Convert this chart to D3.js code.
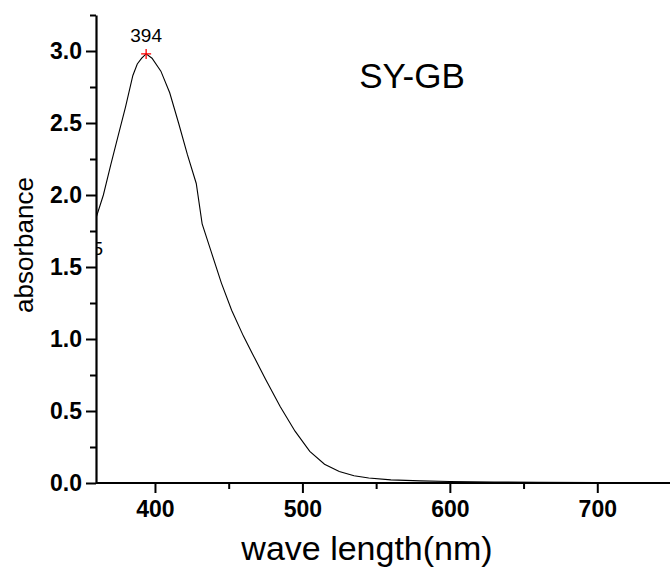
<!DOCTYPE html>
<html>
<head>
<meta charset="utf-8">
<script src="https://cdn.jsdelivr.net/npm/d3@7"></script>
<style>
  body { margin: 0; background: #fff; }
  svg { display: block; font-family: "Liberation Sans", Arial, sans-serif; }
</style>
</head>
<body>
<svg id="chart" width="670" height="573"></svg>
<script>
// absorbance spectrum, values
const wavelength = [360, 365, 370, 375, 380, 385, 388, 391, 394, 398, 404, 410, 416, 422, 428, 432,
  438, 445, 452, 460, 466, 475, 485, 495, 505, 515, 525, 535, 545, 560, 580, 600, 630, 660, 700];
const absorbance = [1.84, 2.00, 2.21, 2.41, 2.61, 2.83, 2.91, 2.95, 2.98, 2.95, 2.86, 2.71, 2.50, 2.28, 2.08, 1.80,
  1.61, 1.39, 1.20, 1.02, 0.90, 0.72, 0.53, 0.36, 0.22, 0.13, 0.08, 0.05, 0.035, 0.022, 0.015, 0.010, 0.007, 0.005, 0.003];
const xTicks = [400, 500, 600, 700];
const xMinor = [450, 550, 650, 750];
const yTicks = [0, 0.5, 1.0, 1.5, 2.0, 2.5, 3.0];
const yMinor = [0.25, 0.75, 1.25, 1.75, 2.25, 2.75, 3.25];
const peak = {x: 394, y: 2.98, label: "394"};
const edgeLabel = {x: 360, y: 1.58, label: "5"}; // label cut by the left edge of the plot
const title = "SY-GB";

const svg = d3.select("#chart");

const x = d3.scaleLinear().domain([360, 750]).range([96, 671]);
const y = d3.scaleLinear().domain([0, 3.25]).range([483, 15]);

svg.append("clipPath").attr("id", "plotclip")
  .append("rect")
  .attr("x", x(360)).attr("y", 0)
  .attr("width", 670 - x(360)).attr("height", y(0));

const plot = svg.append("g").attr("clip-path", "url(#plotclip)");

// spectrum line
const line = d3.line()
  .x((d, i) => x(wavelength[i]))
  .y(d => y(d));
plot.append("path")
  .datum(absorbance)
  .attr("fill", "none")
  .attr("stroke", "#000")
  .attr("stroke-width", 1.1)
  .attr("d", line);

// label partly hidden behind the left edge
plot.append("text")
  .attr("x", x(edgeLabel.x) + 7)
  .attr("y", y(edgeLabel.y))
  .attr("text-anchor", "end")
  .style("font-size", "19px")
  .text(edgeLabel.label);

// minor ticks first so major axes draw over them
svg.append("g")
  .attr("transform", "translate(0," + y(0) + ")")
  .call(d3.axisBottom(x).tickValues(xMinor).tickSize(6).tickFormat(""))
  .call(g => g.select(".domain").remove())
  .selectAll("line").attr("stroke-width", 2);

svg.append("g")
  .attr("transform", "translate(" + x(360) + ",0)")
  .call(d3.axisLeft(y).tickValues(yMinor).tickSize(6).tickFormat(""))
  .call(g => g.select(".domain").remove())
  .selectAll("line").attr("stroke-width", 2);

// x axis
const xAxis = svg.append("g")
  .attr("transform", "translate(0," + y(0) + ")")
  .call(d3.axisBottom(x).tickValues(xTicks).tickSize(10).tickSizeOuter(0).tickPadding(8));
xAxis.select(".domain").attr("stroke-width", 2.2).attr("d", "M" + x(360) + ",0H670");
xAxis.selectAll("line").attr("stroke-width", 2);
xAxis.selectAll("text")
  .style("font-size", "23px")
  .style("font-weight", "bold")
  .attr("fill", "#000");

// y axis
const yAxis = svg.append("g")
  .attr("transform", "translate(" + x(360) + ",0)")
  .call(d3.axisLeft(y).tickValues(yTicks).tickSize(10).tickSizeOuter(0).tickPadding(4)
    .tickFormat(d3.format(".1f")));
yAxis.select(".domain").attr("stroke-width", 2.2);
yAxis.selectAll("line").attr("stroke-width", 2);
yAxis.selectAll("text")
  .style("font-size", "23px")
  .style("font-weight", "bold")
  .attr("fill", "#000");

// peak marker
const px = x(peak.x), py = y(peak.y);
svg.append("path")
  .attr("d", "M" + (px - 5) + "," + py + "H" + (px + 5) + "M" + px + "," + (py - 5) + "V" + (py + 5))
  .attr("stroke", "#ff0000")
  .attr("stroke-width", 1.3);
svg.append("text")
  .attr("x", px)
  .attr("y", py - 12)
  .attr("text-anchor", "middle")
  .style("font-size", "19px")
  .text(peak.label);

// title inside plot
svg.append("text")
  .attr("x", 412)
  .attr("y", 88)
  .attr("text-anchor", "middle")
  .style("font-size", "35px")
  .text(title);

// axis titles
svg.append("text")
  .attr("x", 367)
  .attr("y", 560)
  .attr("text-anchor", "middle")
  .style("font-size", "34px")
  .text("wave length(nm)");

svg.append("text")
  .attr("transform", "translate(33,245) rotate(-90)")
  .attr("text-anchor", "middle")
  .style("font-size", "26px")
  .text("absorbance");
</script>
</body>
</html>
